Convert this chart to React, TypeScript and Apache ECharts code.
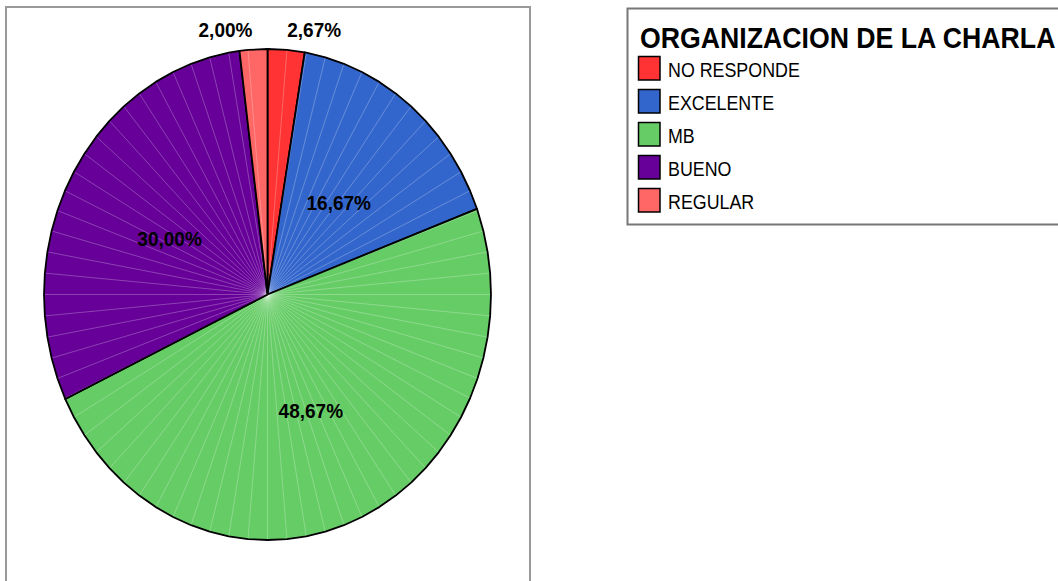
import React, { useEffect, useRef } from "react";
import * as echarts from "echarts";

const chartTitle = "ORGANIZACION DE LA CHARLA";
const categories = ["NO RESPONDE", "EXCELENTE", "MB", "BUENO", "REGULAR"];
const counts = [4, 25, 73, 45, 3];
const colors = ["#FF3333", "#3366CC", "#66CC66", "#660099", "#FF6666"];

const CX = 267.5;
const CY = 294.5;
const RX = 223.5;
const RY = 245.5;
const STEP = 5;

const total = counts.reduce((a, b) => a + b, 0);

function pt(a: number) {
  const r = (a * Math.PI) / 180;
  return [CX + RX * Math.sin(r), CY - RY * Math.cos(r)];
}

function fmt(v: number) {
  return ((v / total) * 100).toFixed(2).replace(".", ",") + "%";
}

function makeRender(i: number) {
  return (params: any, api: any) => {
    const before = counts.slice(0, i).reduce((a, b) => a + b, 0);
    const v = api.value(0);
    const start = (before / total) * 360;
    const end = ((before + v) / total) * 360;
    const arc: number[][] = [pt(start)];
    const inner: number[] = [];
    let a = Math.floor(start / STEP) * STEP + STEP;
    while (a < end - 1e-6) {
      arc.push(pt(a));
      inner.push(a);
      a += STEP;
    }
    arc.push(pt(end));
    const poly = [[CX, CY], ...arc];
    const children: any[] = [
      {
        type: "polygon",
        shape: { points: poly },
        style: { fill: colors[i], stroke: null },
      },
    ];
    inner.forEach((ang) => {
      const p = pt(ang);
      children.push({
        type: "line",
        shape: { x1: CX, y1: CY, x2: p[0], y2: p[1] },
        style: { stroke: "rgba(255,255,255,0.32)", lineWidth: 0.8 },
      });
    });
    children.push({
      type: "polyline",
      shape: { points: [...poly, [CX, CY]] },
      style: { stroke: "#000", lineWidth: 1.8, fill: null, lineJoin: "round" },
    });
    const mid = (start + end) / 2;
    const pct = (v / total) * 100;
    let lx: number, ly: number;
    if (pct < 5) {
      const e = pt(mid);
      lx = e[0] + (mid < 180 ? 28 : -28);
      ly = CY - RY - 19;
    } else {
      const r = (mid * Math.PI) / 180;
      lx = CX + RX * 0.5 * Math.sin(r);
      ly = CY - RY * 0.5 * Math.cos(r) + 3;
    }
    children.push({
      type: "text",
      x: lx,
      y: ly,
      scaleX: 0.95,
      style: {
        text: fmt(v),
        fill: "#000",
        font: 'bold 20px "Liberation Sans", Arial, sans-serif',
        align: "center",
        verticalAlign: "middle",
      },
    });
    return { type: "group", children };
  };
}

export default function App() {
  const ref = useRef<HTMLDivElement>(null);
  useEffect(() => {
    if (!ref.current) return;
    const chart = echarts.init(ref.current, null, { renderer: "svg" });
    const legendItems: any[] = [];
    categories.forEach((name, i) => {
      legendItems.push({
        type: "rect",
        shape: { x: 638.5, y: 56.5 + 33 * i, width: 21.5, height: 23.5 },
        style: { fill: colors[i], stroke: "#000", lineWidth: 1.5 },
        silent: true,
      });
      legendItems.push({
        type: "text",
        x: 668,
        y: 69 + 33 * i,
        scaleX: 0.85,
        style: {
          text: name,
          fill: "#000",
          font: '21px "Liberation Sans", Arial, sans-serif',
          verticalAlign: "middle",
          align: "left",
        },
        silent: true,
      });
    });
    chart.setOption({
      animation: false,
      backgroundColor: "#fff",
      graphic: [
        {
          type: "rect",
          shape: { x: 6, y: 7, width: 524, height: 620 },
          style: { fill: null, stroke: "#999", lineWidth: 2 },
          silent: true,
        },
        {
          type: "rect",
          shape: { x: 627.5, y: 8.5, width: 500, height: 216 },
          style: { fill: null, stroke: "#777", lineWidth: 2 },
          silent: true,
        },
        {
          type: "text",
          x: 640,
          y: 38,
          scaleX: 0.92,
          style: {
            text: chartTitle,
            fill: "#000",
            font: 'bold 29px "Liberation Sans", Arial, sans-serif',
            verticalAlign: "middle",
            align: "left",
          },
          silent: true,
        },
        ...legendItems,
      ],
      series: categories.map((name, i) => ({
        type: "custom",
        name,
        coordinateSystem: "none",
        itemStyle: { color: colors[i] },
        data: [counts[i]],
        renderItem: makeRender(i),
      })),
    });
    return () => chart.dispose();
  }, []);
  return (
    <div
      ref={ref}
      style={{ position: "fixed", left: 0, top: 0, width: 1058, height: 581 }}
    />
  );
}
